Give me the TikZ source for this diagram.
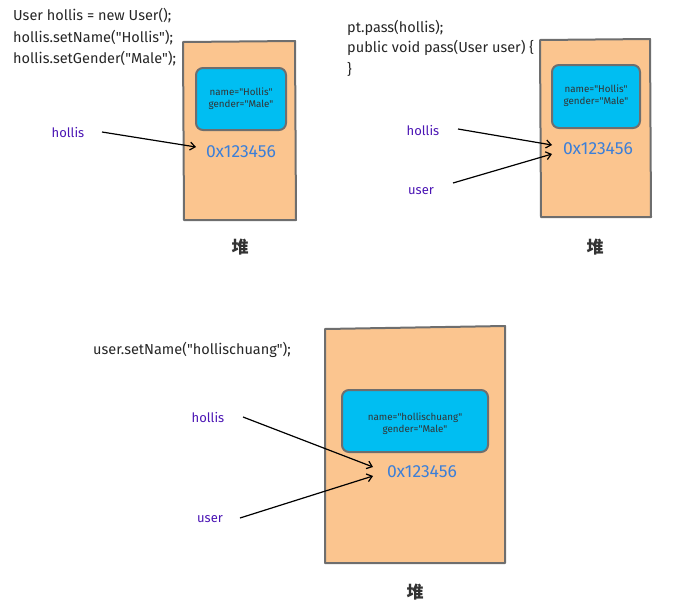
\documentclass[tikz,border=0pt]{standalone}
\usepackage{fontspec}
\setmainfont{Fira Sans}
\newfontfamily\hand{Fira Sans}
\newfontfamily\cjk{Noto Sans CJK SC}
\usetikzlibrary{arrows.meta}
\definecolor{heapfill}{HTML}{FBC58F}
\definecolor{edgegray}{HTML}{6E6E6E}
\definecolor{objfill}{HTML}{00BEF2}
\definecolor{addrblue}{HTML}{3C7FD8}
\definecolor{varpurple}{HTML}{4A14B4}
\tikzset{
  heap/.style={fill=heapfill, draw=edgegray, line width=2pt, line join=round},
  obj/.style={fill=objfill, draw=edgegray, line width=2pt, rounded corners=7pt},
  code/.style={anchor=west, font=\hand\fontsize{14.5}{16}\selectfont, text=black!85, inner sep=0pt},
  field/.style={font=\hand\fontsize{9.8}{11}\selectfont, text=black!80, align=center, inner sep=0pt},
  addr/.style={font=\hand\fontsize{17.5}{19}\selectfont, text=addrblue, inner sep=1pt},
  var/.style={font=\hand\fontsize{13}{15}\selectfont, text=varpurple, inner sep=1pt},
  heaplbl/.style={font=\cjk\fontsize{17}{19}\selectfont\bfseries, text=black!80},
  ptr/.style={-{Straight Barb[length=5pt,width=8pt]}, line width=1.2pt, black},
}
\begin{document}
\begin{tikzpicture}[x=1pt,y=-1pt]
\useasboundingbox (0,0) rectangle (697,611);
% ---------- panel 1 ----------
\node[code] (c1a) at (13,16) {User hollis = new User();};
\node[code] (c1b) at (13,38) {hollis.setName("Hollis");};
\node[code] (c1c) at (13,59) {hollis.setGender("Male");};
\path[heap] (183,42) -- (295,41) -- (296,220) -- (184,220) -- cycle;
\path[obj] (196,68) rectangle (286,130);
\node[field] (f1) at (241,99) {name="Hollis"\\[1pt]gender="Male"};
\node[addr] (a1) at (241,152) {0x123456};
\node[heaplbl] (h1) at (240,247) {堆};
\node[var] (v1) at (68,133) {hollis};
\coordinate (t1) at (196,147);
\draw[ptr] (102,132) -- (t1);
% ---------- panel 2 ----------
\node[code] (c2a) at (347,28) {pt.pass(hollis);};
\node[code] (c2b) at (347,48) {public void pass(User user) \{};
\node[code] (c2c) at (347,69) {\}};
\path[heap] (540,40) -- (650,39) -- (651,217) -- (541,217) -- cycle;
\path[obj] (552,65) rectangle (640,128);
\node[field] (f2) at (596,96) {name="Hollis"\\[1pt]gender="Male"};
\node[addr] (a2) at (598,149) {0x123456};
\node[heaplbl] (h2) at (595,247) {堆};
\node[var] (v2) at (423,131) {hollis};
\node[var] (u2) at (421,191) {user};
\coordinate (t2a) at (552,145);
\coordinate (t2b) at (552,154);
\draw[ptr] (458,129) -- (t2a);
\draw[ptr] (453,183) -- (t2b);
% ---------- panel 3 ----------
\node[code] (c3a) at (93,350) {user.setName("hollischuang");};
\path[heap] (325,329) -- (505,326) -- (505,563) -- (325,563) -- cycle;
\path[obj] (342,390) rectangle (488,452);
\node[field] (f3) at (415,424) {name="hollischuang"\\[1pt]gender="Male"};
\node[addr] (a3) at (422,472) {0x123456};
\node[heaplbl] (h3) at (415,592) {堆};
\node[var] (v3) at (208,418) {hollis};
\node[var] (u3) at (210,519) {user};
\coordinate (t3a) at (373,467);
\coordinate (t3b) at (373,476);
\draw[ptr] (243,417) -- (t3a);
\draw[ptr] (240,518) -- (t3b);
\end{tikzpicture}
\end{document}
